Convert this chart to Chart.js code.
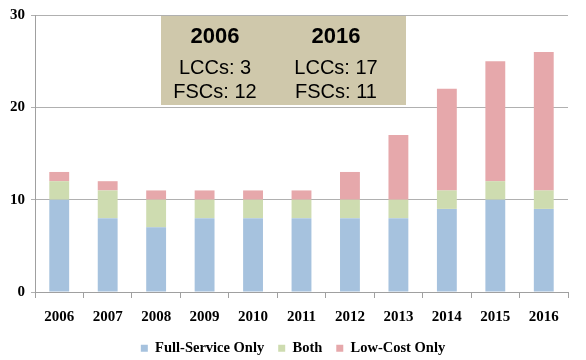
<!DOCTYPE html>
<html>
<head>
<meta charset="utf-8">
<script src="https://cdn.jsdelivr.net/npm/chart.js@4"></script>
<style>
  body { margin: 0; background: #fff; }
  #wrap { position: relative; width: 586px; height: 360px; overflow: hidden; }
  #note {
    position: absolute; left: 161px; top: 16px; width: 245px; height: 89px;
    background: #cfc8ab; font-family: "Liberation Sans", sans-serif; color: #000;
  }
  #note div { position: absolute; width: 120px; text-align: center; line-height: 24px; }
  #note .hd { top: 8px; font-weight: bold; font-size: 22px; }
  #note .bd { top: 39px; font-size: 20px; }
</style>
</head>
<body>
<div id="wrap">
  <canvas id="airlinesChart" width="586" height="360"></canvas>
  <div id="note">
    <div class="hd" style="left:-6px;">2006</div>
    <div class="hd" style="left:115px;">2016</div>
    <div class="bd" style="left:-6px;">LCCs: 3<br>FSCs: 12</div>
    <div class="bd" style="left:115px;">LCCs: 17<br>FSCs: 11</div>
  </div>
</div>
<script>
const years = ['2006', '2007', '2008', '2009', '2010', '2011', '2012', '2013', '2014', '2015', '2016'];
const fullService = [10, 8, 7, 8, 8, 8, 8, 8, 9, 10, 9];
const both = [2, 3, 3, 2, 2, 2, 2, 2, 2, 2, 2];
const lowCost = [1, 1, 1, 1, 1, 1, 3, 7, 11, 13, 15];

const ctx = document.getElementById('airlinesChart').getContext('2d');
const tickFont = { family: '"Liberation Serif", serif', size: 15, weight: 'bold' };

// keep the legend strip short without losing the gap between its items
const legendHeight = {
    id: 'legendHeight',
    afterInit(chart) {
        const lg = chart.legend;
        const fit = lg.fit;
        lg.fit = function () { fit.call(this); this.height = 33; };
    }
};

new Chart(ctx, {
    type: 'bar',
    data: {
        labels: years,
        datasets: [
            { label: 'Full-Service Only', data: fullService, backgroundColor: '#a6c2de' },
            { label: 'Both', data: both, backgroundColor: '#cedcb0' },
            { label: 'Low-Cost Only', data: lowCost, backgroundColor: '#e6a8ab' }
        ]
    },
    options: {
        responsive: false,
        animation: false,
        layout: { padding: { left: 0, right: 0, top: 6, bottom: 0 } },
        datasets: { bar: { barPercentage: 0.41, categoryPercentage: 1 } },
        scales: {
            x: {
                stacked: true,
                afterFit: function (scale) { scale.height = 35; },
                grid: { offset: true, drawOnChartArea: false, color: '#a0a0a0', tickLength: 6 },
                border: { color: '#a0a0a0' },
                ticks: { color: '#000', font: tickFont, padding: 10, maxRotation: 0 }
            },
            y: {
                stacked: true,
                min: 0, max: 30,
                afterFit: function (scale) { scale.width = 35; },
                grid: { color: '#b0b0b0', tickLength: 4 },
                border: { color: '#a0a0a0' },
                ticks: { stepSize: 10, color: '#000', font: tickFont, padding: 6 }
            },
            // empty right margin so the legend centres on the whole picture
            spacer: {
                position: 'right',
                afterFit: function (scale) { scale.width = 18; },
                grid: { display: false },
                border: { display: false },
                ticks: { display: false }
            }
        },
        plugins: {
            legend: {
                position: 'bottom',
                labels: {
                    color: '#000',
                    boxWidth: 7, boxHeight: 7,
                    padding: 14,
                    font: { family: '"Liberation Serif", serif', size: 14.5, weight: 'bold' }
                }
            },
            tooltip: { enabled: false }
        }
    },
    plugins: [legendHeight]
});
</script>
</body>
</html>
